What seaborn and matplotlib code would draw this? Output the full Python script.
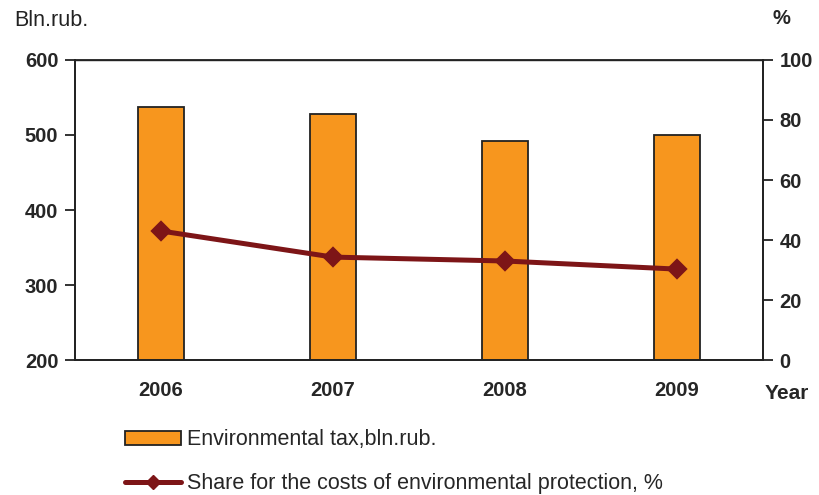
import numpy as np
import pandas as pd
import seaborn as sns
import matplotlib.pyplot as plt
from matplotlib.patches import Patch
from matplotlib.lines import Line2D

# valeurs
years = ["2006", "2007", "2008", "2009"]
tax = [537, 528, 492, 500]          # bln.rub. (axe gauche)
share = [43.0, 34.3, 33.0, 30.3]    # % (axe droit)

bar_color = "#F7961E"
line_color = "#7D1517"

sns.set_style("white")
plt.rcParams['font.family'] = ['Liberation Sans', 'DejaVu Sans']

df = pd.DataFrame({"year": years, "tax": tax, "share": share})

fig = plt.figure(figsize=(8.19, 4.95), dpi=100)
ax = fig.add_axes([0.0916, 0.2727, 0.84, 0.6061])

sns.barplot(data=df, x="year", y="tax", color=bar_color, width=0.27,
            edgecolor="#222222", linewidth=1.3, saturation=1, ax=ax)
ax.set_ylim(200, 600)
ax.set_xlim(-0.5, 3.5)
ax.set_yticks(range(200, 601, 100))

ax2 = ax.twinx()
sns.pointplot(data=df, x="year", y="share", color=line_color, markers="D",
              markersize=8, linewidth=3.6, ax=ax2)
ax2.set_ylim(0, 100)
ax2.set_xlim(-0.5, 3.5)
ax2.set_yticks(range(0, 101, 20))

# ticks des categories aux frontieres, etiquettes au centre
ax.set_xticks([-0.5, 0.5, 1.5, 2.5, 3.5])
ax.set_xticklabels([])
ax.set_xticks(range(len(years)), minor=True)
ax.set_xticklabels(years, minor=True)
ax.tick_params(axis="x", which="major", direction="inout", length=9, width=1.3, color="#222222")
ax.tick_params(axis="x", which="minor", length=0, pad=15, labelsize=14.5)
for lab in ax.get_xticklabels(minor=True):
    lab.set_fontweight("bold")

ax.tick_params(axis="y", direction="out", length=7, width=1.3, color="#222222", labelsize=14.5, pad=5)
ax2.tick_params(axis="y", direction="out", length=7, width=1.3, color="#222222", labelsize=14.5, pad=5)
for lab in ax.get_yticklabels() + ax2.get_yticklabels():
    lab.set_fontweight("bold")

for a in (ax, ax2):
    a.set_xlabel("")
    a.set_ylabel("")
    for sp in a.spines.values():
        sp.set_color("#222222")
        sp.set_linewidth(1.3)
ax.spines["top"].set_linewidth(1.0)

fig.text(0.018, 0.958, "Bln.rub.", fontsize=15.5, ha="left", va="center", color="#222222")
fig.text(0.954, 0.962, "%", fontsize=14.5, fontweight="bold", ha="center", va="center")
fig.text(0.961, 0.206, "Year", fontsize=15, fontweight="bold", ha="center", va="center")

handles = [Patch(facecolor=bar_color, edgecolor="#222222", linewidth=1.3),
           Line2D([0], [0], color=line_color, lw=3.6, marker="D", markersize=7)]
labels = ["Environmental tax,bln.rub.", "Share for the costs of environmental protection, %"]
fig.legend(handles, labels, loc="upper left", bbox_to_anchor=(0.142, 0.15),
           frameon=False, fontsize=15.5, handlelength=2.6, handleheight=0.6,
           handletextpad=0.3, labelspacing=1.05, borderaxespad=0)

fig.savefig("out.png", dpi=100)
